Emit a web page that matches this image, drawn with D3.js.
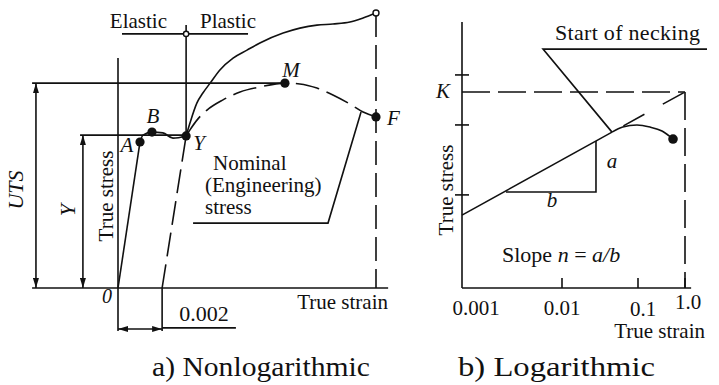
<!DOCTYPE html>
<html><head><meta charset="utf-8">
<script src="https://cdn.jsdelivr.net/npm/d3@7"></script>
<style>
html,body{margin:0;padding:0;background:#fff;}
svg{display:block;}
text{font-family:'Liberation Serif','Times New Roman',serif;fill:#111;}
</style></head><body>
<svg id="c" width="719" height="385"></svg>
<script>
// ===== Panel a: nonlogarithmic (arbitrary units, strain 0–100, stress 0–100) =====
const elasticStrain = [0, 8.53];
const elasticStress = [0, 53.1];
const yieldWaveStrain = [8.53, 9.69, 13.18, 17.4, 21.3, 26.4];
const yieldWaveStress = [53.1, 55.6, 56.7, 56.4, 54.5, 55.3];
const trueStrain = [26.4, 27.9, 30.6, 32.9, 35.7, 39.5, 44.6, 50.0, 55.0, 64.0, 70.5, 77.1, 83.3, 89.9, 95.0, 100];
const trueStress = [55.3, 60.0, 67.3, 70.9, 74.5, 79.3, 83.6, 86.5, 89.1, 92.7, 94.5, 95.6, 96.0, 96.7, 98.2, 100];
const nominalStrain = [26.4, 27.9, 31.0, 34.5, 40.7, 47.3, 55.0, 64.7, 70.5, 77.1, 83.3, 89.9, 95.0, 100];
const nominalStress = [55.3, 57.5, 61.5, 64.7, 68.4, 71.3, 73.1, 74.5, 74.2, 72.7, 70.2, 66.9, 64.0, 62.2];
const offsetStrain = [17.1, 26.4];   // 0.002 offset line
const offsetStress = [0, 55.3];
const pointNames = ['A', 'B', 'Y', 'M', 'F'];
const pointStrain = [8.53, 13.18, 26.4, 64.7, 100];
const pointStress = [53.1, 56.7, 55.3, 74.5, 62.2];
const utsLevel = 74.5;
const yieldLevel = 55.6;
const fractureStrain = 100;
const fractureTrueStress = 100;

// ===== Panel b: logarithmic =====
const logStrainTicks = [0.001, 0.01, 0.1, 1.0];
const logStrainLabels = ['0.001', '0.01', '0.1', '1.0'];
const logStressTicks = [35.0, 61.3, 80.1];
const kLevel = 73.7;
const fitStrain = [0.001, 0.0455];
const fitStress = [27.4, 58.6];
const extStrain = [0.0455, 1.0];
const extStress = [58.6, 73.7];
const neckStrain = [0.0455, 0.063, 0.097, 0.18, 0.324, 0.556];
const neckStress = [58.6, 60.5, 61.3, 60.5, 59.0, 56.0];
const triStrain = [0.00275, 0.028];
const triStress = [36.1, 55.3];

// ===== drawing =====
const ink = '#111';
const SW = 1.6;
const svg = d3.select('#c');
const defs = svg.append('defs');
defs.append('marker').attr('id', 'arr').attr('viewBox', '0 0 10 6')
  .attr('refX', 10).attr('refY', 3).attr('markerWidth', 10).attr('markerHeight', 6)
  .attr('markerUnits', 'userSpaceOnUse').attr('orient', 'auto-start-reverse')
  .append('path').attr('d', 'M0,0 L10,3 L0,6 Z').attr('fill', ink);

const xA = d3.scaleLinear().domain([0, 100]).range([118, 376]);
const yA = d3.scaleLinear().domain([0, 100]).range([288, 13]);
const xB = d3.scaleLog().domain([0.001, 0.01, 0.1, 1]).range([462, 562, 638, 685]);
const yB = d3.scaleLinear().domain([0, 100]).range([288, 22]);

function path(g, xs, ys, sx, sy, curve, dash) {
  const pts = xs.map((x, i) => [x, ys[i]]);
  const line = d3.line().x(d => sx(d[0])).y(d => sy(d[1])).curve(curve || d3.curveLinear);
  const p = g.append('path').attr('d', line(pts)).attr('fill', 'none')
    .attr('stroke', ink).attr('stroke-width', SW);
  if (dash) p.attr('stroke-dasharray', dash);
  return p;
}
function txt(g, x, y, s, size, opts = {}) {
  const t = g.append('text').attr('x', x).attr('y', y).attr('font-size', size).text(s);
  if (opts.anchor) t.attr('text-anchor', opts.anchor);
  if (opts.italic) t.attr('font-style', 'italic');
  if (opts.rot) t.attr('transform', `rotate(-90,${x},${y})`);
  if (opts.len) t.attr('textLength', opts.len).attr('lengthAdjust', opts.adj || 'spacing');
  return t;
}

// ---------- Panel a ----------
const ga = svg.append('g');
// axes
path(ga, [-33.3, 104.7], [0, 0], xA, yA);
path(ga, [0, 0], [-15.6, 83.6], xA, yA);
// level lines
path(ga, [-33.3, pointStrain[3]], [utsLevel, utsLevel], xA, yA);
path(ga, [-14.7, pointStrain[2]], [yieldLevel, yieldLevel], xA, yA);
// dimension arrows
path(ga, [-31.8, -31.8], [0, utsLevel], xA, yA).attr('marker-start', 'url(#arr)').attr('marker-end', 'url(#arr)');
path(ga, [-13.6, -13.6], [0, yieldLevel], xA, yA).attr('marker-start', 'url(#arr)').attr('marker-end', 'url(#arr)');
// elastic / plastic divider
path(ga, [pointStrain[2], pointStrain[2]], [95.6, pointStress[2]], xA, yA);
path(ga, [1.55, 50.4], [92.4, 92.4], xA, yA);
ga.append('circle').attr('cx', xA(pointStrain[2])).attr('cy', yA(92.4)).attr('r', 2.6)
  .attr('fill', '#fff').attr('stroke', ink).attr('stroke-width', 1.4);
// curves
path(ga, elasticStrain, elasticStress, xA, yA);
path(ga, yieldWaveStrain, yieldWaveStress, xA, yA, d3.curveMonotoneX);
path(ga, trueStrain, trueStress, xA, yA, d3.curveMonotoneX);
path(ga, nominalStrain, nominalStress, xA, yA, d3.curveMonotoneX, '24,8');
path(ga, offsetStrain, offsetStress, xA, yA, null, '24,8');
// fracture dashed vertical
path(ga, [fractureStrain, fractureStrain], [fractureTrueStress, 0], xA, yA, null, '24,8');
ga.append('circle').attr('cx', xA(fractureStrain)).attr('cy', yA(fractureTrueStress)).attr('r', 3)
  .attr('fill', '#fff').attr('stroke', ink).attr('stroke-width', 1.4);
// 0.002 dimension
path(ga, [offsetStrain[0], offsetStrain[0]], [0, -15.6], xA, yA);
path(ga, [offsetStrain[0], 45.7], [-14.5, -14.5], xA, yA);
path(ga, [0, offsetStrain[0]], [-14.9, -14.9], xA, yA).attr('marker-start', 'url(#arr)').attr('marker-end', 'url(#arr)');
// nominal leader
path(ga, [29.1, 81.4, 94.2], [23.6, 23.6, 64.0], xA, yA);
// points
ga.selectAll('circle.pt').data(pointNames).enter().append('circle').attr('class', 'pt')
  .attr('cx', (d, i) => xA(pointStrain[i])).attr('cy', (d, i) => yA(pointStress[i]))
  .attr('r', 4.6).attr('fill', ink);
// point labels
txt(ga, 127, 152, 'A', 21, {anchor: 'middle', italic: true});
txt(ga, 153, 123, 'B', 21, {anchor: 'middle', italic: true});
txt(ga, 199, 150, 'Y', 21, {anchor: 'middle', italic: true});
txt(ga, 291, 77, 'M', 21, {anchor: 'middle', italic: true});
txt(ga, 387, 125, 'F', 21, {italic: true});
txt(ga, 107, 303, '0', 20, {anchor: 'middle', italic: true});
// text
txt(ga, 167, 28, 'Elastic', 21, {anchor: 'end'});
txt(ga, 200, 28, 'Plastic', 21);
txt(ga, 388, 309, 'True strain', 21, {anchor: 'end'});
txt(ga, 113, 196, 'True stress', 21, {anchor: 'middle', rot: true});
txt(ga, 23, 190, 'UTS', 22, {anchor: 'middle', rot: true, italic: true});
txt(ga, 75, 210, 'Y', 22, {anchor: 'middle', rot: true, italic: true});
txt(ga, 204, 321, '0.002', 22, {anchor: 'middle'});
txt(ga, 213, 170, 'Nominal', 21);
txt(ga, 205, 192, '(Engineering)', 21);
txt(ga, 205, 214, 'stress', 21);
txt(ga, 152, 376, 'a) Nonlogarithmic', 27, {len: 218, adj: 'spacingAndGlyphs'});

// ---------- Panel b ----------
const gb = svg.append('g');
path(gb, [0.001, 1.35], [0, 0], xB, yB);
gb.append('line').attr('x1', xB(0.001)).attr('x2', xB(0.001)).attr('y1', yB(100)).attr('y2', yB(0))
  .attr('stroke', ink).attr('stroke-width', SW);
// y ticks
gb.selectAll('line.yt').data(logStressTicks).enter().append('line').attr('class', 'yt')
  .attr('x1', xB(0.001) - 7).attr('x2', xB(0.001) + 7)
  .attr('y1', d => yB(d)).attr('y2', d => yB(d)).attr('stroke', ink).attr('stroke-width', SW);
// x ticks
gb.selectAll('line.xt').data(logStrainTicks.slice(1)).enter().append('line').attr('class', 'xt')
  .attr('x1', d => xB(d)).attr('x2', d => xB(d)).attr('y1', yB(0)).attr('y2', yB(0) - 10)
  .attr('stroke', ink).attr('stroke-width', SW);
const labDx = [14, 0, 5, 3];
const labY = [315, 315, 316, 309];
logStrainLabels.forEach((s, i) => txt(gb, xB(logStrainTicks[i]) + labDx[i], labY[i], s, 21, {anchor: 'middle'}));
// K level and 1.0 vertical
path(gb, [0.001, 1.0], [kLevel, kLevel], xB, yB, null, '28,8');
path(gb, [1.0, 1.0], [kLevel, 0], xB, yB, null, '28,8');
// curve
path(gb, fitStrain, fitStress, xB, yB);
path(gb, extStrain, extStress, xB, yB, null, '0,13,24,8');
path(gb, neckStrain, neckStress, xB, yB, d3.curveMonotoneX);
gb.append('circle').attr('cx', xB(neckStrain[neckStrain.length - 1])).attr('cy', yB(neckStress[neckStress.length - 1]))
  .attr('r', 4.8).attr('fill', ink);
// slope triangle
path(gb, [triStrain[0], triStrain[1], triStrain[1]], [triStress[0], triStress[0], triStress[1]], xB, yB);
// necking leader
path(gb, [2.94, 0.00646, 0.0455], [89.8, 89.8, 58.6], xB, yB);
// texts
txt(gb, 555, 40, 'Start of necking', 22, {len: 145});
txt(gb, 443, 98, 'K', 21, {anchor: 'middle', italic: true});
txt(gb, 612, 168, 'a', 21, {anchor: 'middle', italic: true});
txt(gb, 552, 207, 'b', 21, {anchor: 'middle', italic: true});
txt(gb, 453, 190, 'True stress', 21, {anchor: 'middle', rot: true});
txt(gb, 705, 338, 'True strain', 21, {anchor: 'end'});
const sl = gb.append('text').attr('x', 502).attr('y', 262).attr('font-size', 22);
sl.append('tspan').text('Slope ');
sl.append('tspan').attr('font-style', 'italic').text('n');
sl.append('tspan').text(' = ');
sl.append('tspan').attr('font-style', 'italic').text('a/b');
txt(gb, 458, 376, 'b) Logarithmic', 27, {len: 197, adj: 'spacingAndGlyphs'});
</script>
</body></html>
